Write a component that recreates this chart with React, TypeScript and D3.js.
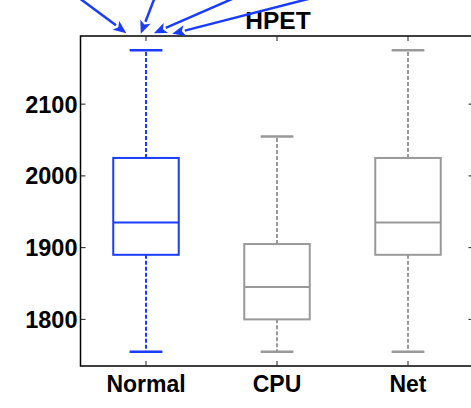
import { useEffect, useRef } from 'react';
import * as d3 from 'd3';

// box statistics
const categories = ['Normal', 'CPU', 'Net'];
const whiskerLow = [1755, 1755, 1755];
const q1 = [1890, 1800, 1890];
const medians = [1935, 1845, 1935];
const q3 = [2025, 1905, 2025];
const whiskerHigh = [2175, 2055, 2175];
const boxColors = ['#1a3cff', '#999999', '#999999'];

const yTicks = [1800, 1900, 2000, 2100];

// annotation arrows, [fromX, fromY, toX, toY] in data units
const arrows: [number, number, number, number][] = [
  [0.475, 2250, 0.85, 2199],
  [1.07, 2250, 0.96, 2198],
  [1.7, 2250, 1.06, 2199],
  [2.31, 2250, 1.2, 2198],
];

export default function App() {
  const svgRef = useRef<SVGSVGElement>(null);

  useEffect(() => {
    if (!svgRef.current) return;
    const svg = d3.select(svgRef.current);
    svg.selectAll('*').remove();

    const width = 471;
    const height = 408;
    const plot = { left: 80.5, right: 473.5, top: 36, bottom: 366 };
    const font = '"Liberation Sans", Arial, Helvetica, sans-serif';

    const x = d3.scaleLinear().domain([0.5, 3.5]).range([plot.left, plot.right]);
    const y = d3.scaleLinear().domain([1735, 2195]).range([plot.bottom, plot.top]);

    svg.attr('width', width).attr('height', height);

    // frame
    svg
      .append('rect')
      .attr('x', plot.left)
      .attr('y', plot.top)
      .attr('width', plot.right - plot.left)
      .attr('height', plot.bottom - plot.top)
      .attr('fill', 'none')
      .attr('stroke', '#000')
      .attr('stroke-width', 1.5);

    // inward ticks
    const ticks = svg.append('g').attr('stroke', '#222').attr('stroke-width', 1);
    categories.forEach((_, i) => {
      const cx = x(i + 1);
      ticks.append('line').attr('x1', cx).attr('x2', cx).attr('y1', plot.bottom).attr('y2', plot.bottom - 5);
      ticks.append('line').attr('x1', cx).attr('x2', cx).attr('y1', plot.top).attr('y2', plot.top + 5);
    });
    yTicks.forEach((t) => {
      const ty = y(t);
      ticks.append('line').attr('x1', plot.left).attr('x2', plot.left + 5).attr('y1', ty).attr('y2', ty);
      ticks.append('line').attr('x1', plot.right).attr('x2', plot.right - 5).attr('y1', ty).attr('y2', ty);
    });

    // tick labels
    svg
      .append('g')
      .selectAll('text')
      .data(yTicks)
      .enter()
      .append('text')
      .attr('x', plot.left - 3)
      .attr('y', (d) => y(d))
      .attr('dy', '0.36em')
      .attr('text-anchor', 'end')
      .style('font-family', font)
      .style('font-weight', 'bold')
      .style('font-size', '23.5px')
      .text((d) => d);

    svg
      .append('g')
      .selectAll('text')
      .data(categories)
      .enter()
      .append('text')
      .attr('x', (d, i) => x(i + 1))
      .attr('y', 392)
      .attr('text-anchor', 'middle')
      .style('font-family', font)
      .style('font-weight', 'bold')
      .style('font-size', '23px')
      .text((d) => d);

    // title
    svg
      .append('text')
      .attr('x', (plot.left + plot.right) / 2 + 1)
      .attr('y', 29)
      .attr('text-anchor', 'middle')
      .style('font-family', font)
      .style('font-weight', 'bold')
      .style('font-size', '24.5px')
      .text('HPET');

    // boxes
    const boxHalf = 0.25;
    const capHalf = 0.125;
    categories.forEach((_, i) => {
      const c = i + 1;
      const col = boxColors[i];
      const g = svg.append('g').attr('stroke', col).attr('fill', 'none');
      g.append('line')
        .attr('x1', x(c)).attr('x2', x(c))
        .attr('y1', y(q3[i])).attr('y2', y(whiskerHigh[i]))
        .attr('stroke-width', 2)
        .attr('stroke-dasharray', '4,2');
      g.append('line')
        .attr('x1', x(c)).attr('x2', x(c))
        .attr('y1', y(q1[i])).attr('y2', y(whiskerLow[i]))
        .attr('stroke-width', 2)
        .attr('stroke-dasharray', '4,2');
      [whiskerHigh[i], whiskerLow[i]].forEach((v) => {
        g.append('line')
          .attr('x1', x(c - capHalf)).attr('x2', x(c + capHalf))
          .attr('y1', y(v)).attr('y2', y(v))
          .attr('stroke-width', 2.5);
      });
      g.append('rect')
        .attr('x', x(c - boxHalf))
        .attr('y', y(q3[i]))
        .attr('width', x(c + boxHalf) - x(c - boxHalf))
        .attr('height', y(q1[i]) - y(q3[i]))
        .attr('stroke-width', 2);
      g.append('line')
        .attr('x1', x(c - boxHalf)).attr('x2', x(c + boxHalf))
        .attr('y1', y(medians[i])).attr('y2', y(medians[i]))
        .attr('stroke-width', 2);
    });

    // arrows
    const arrowColor = '#1a3cff';
    const ag = svg.append('g');
    arrows.forEach(([fx, fy, tx, ty]) => {
      const x1 = x(fx), y1 = y(fy), x2 = x(tx), y2 = y(ty);
      const ang = Math.atan2(y2 - y1, x2 - x1);
      const len = 13, hw = 5.5;
      const bx = x2 - len * Math.cos(ang);
      const by = y2 - len * Math.sin(ang);
      ag.append('line')
        .attr('x1', x1).attr('y1', y1).attr('x2', bx).attr('y2', by)
        .attr('stroke', arrowColor).attr('stroke-width', 2.5);
      const px = -Math.sin(ang) * hw, py = Math.cos(ang) * hw;
      ag.append('path')
        .attr('d', `M${x2},${y2}L${bx + px},${by + py}L${bx + 3 * Math.cos(ang)},${by + 3 * Math.sin(ang)}L${bx - px},${by - py}Z`)
        .attr('fill', arrowColor);
    });
  }, []);

  return <svg ref={svgRef} style={{ position: 'absolute', left: 0, top: 0 }} />;
}
